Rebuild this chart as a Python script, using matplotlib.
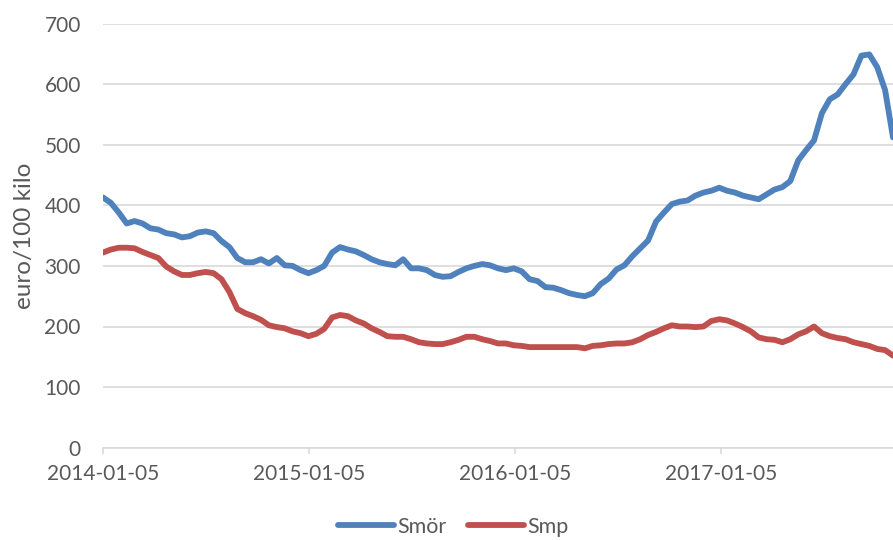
import matplotlib
matplotlib.use("Agg")
import matplotlib.pyplot as plt
import matplotlib.dates as mdates
import numpy as np
import pandas as pd

# Biweekly prices, euro/100 kilo
start_date = "2014-01-05"
n_points = 101

smor = [413, 404, 388, 370, 374, 370, 362, 360, 354, 352,
        347, 349, 355, 357, 354, 341, 331, 313, 306, 306,
        311, 304, 313, 301, 300, 293, 288, 293, 300, 322,
        331, 327, 324, 318, 311, 306, 303, 301, 311, 296,
        296, 293, 285, 282, 283, 290, 296, 300, 303, 301,
        296, 293, 296, 291, 278, 275, 265, 264, 260, 255,
        252, 250, 255, 270, 279, 294, 301, 316, 329, 342,
        373, 388, 402, 406, 408, 416, 421, 424, 429, 424,
        421, 416, 413, 410, 418, 426, 430, 440, 474, 491,
        507, 552, 575, 583, 600, 616, 647, 649, 628, 590,
        512]

smp = [322, 327, 330, 330, 329, 323, 318, 313, 299, 291,
       285, 285, 288, 290, 288, 278, 257, 229, 222, 217,
       211, 202, 199, 197, 192, 189, 184, 188, 196, 215,
       219, 217, 210, 205, 197, 191, 184, 183, 183, 179,
       174, 172, 171, 171, 174, 178, 183, 183, 179, 176,
       172, 172, 169, 168, 166, 166, 166, 166, 166, 166,
       166, 164, 168, 169, 171, 172, 172, 174, 179, 186,
       191, 197, 202, 200, 200, 199, 200, 209, 212, 210,
       205, 199, 192, 182, 179, 178, 174, 179, 187, 192,
       200, 189, 184, 181, 179, 174, 171, 168, 163, 161,
       152]

tick_dates = ["2014-01-05", "2015-01-05", "2016-01-05", "2017-01-05"]
y_ticks = [0, 100, 200, 300, 400, 500, 600, 700]

dates = pd.date_range(start_date, periods=n_points, freq="14D")

blue = "#4F81BD"
red = "#C0504D"
grid_col = "#D9D9D9"
text_col = "#595959"

plt.rcParams["font.family"] = ["Lato", "DejaVu Sans"]

fig = plt.figure(figsize=(8.93, 5.40), dpi=100)
ax = fig.add_axes([103 / 893, 92.3 / 540, 1 - 103 / 893, 424.2 / 540])

ax.plot(dates, smor, color=blue, lw=4.2, label="Smör", solid_capstyle="round")
ax.plot(dates, smp, color=red, lw=4.2, label="Smp", solid_capstyle="round")

ax.set_xlim(dates[0], dates[-1])
ax.set_ylim(0, 700)
ax.set_yticks(y_ticks)
ax.set_xticks(pd.to_datetime(tick_dates))
ax.xaxis.set_major_formatter(mdates.DateFormatter("%Y-%m-%d"))

ax.grid(axis="y", color=grid_col, lw=1.2)
ax.set_axisbelow(True)
for s in ["top", "right", "left"]:
    ax.spines[s].set_visible(False)
ax.spines["bottom"].set_color(grid_col)
ax.spines["bottom"].set_linewidth(1.2)

ax.tick_params(axis="y", length=0, pad=16, labelsize=15, labelcolor=text_col)
ax.tick_params(axis="x", length=4, width=1.2, color=grid_col, pad=8,
               labelsize=15, labelcolor=text_col)

ax.set_ylabel("euro/100 kilo", fontsize=17.5, color=text_col, labelpad=7)

# legend sits at the very bottom edge, kept just inside the figure
fig.legend(loc="center", bbox_to_anchor=(453 / 893, 13 / 540), ncol=2,
           frameon=False, fontsize=15.5, handlelength=2.6, handletextpad=0.15,
           columnspacing=1.0, labelcolor=text_col, borderpad=0.2)

fig.savefig("out.png", dpi=100)
